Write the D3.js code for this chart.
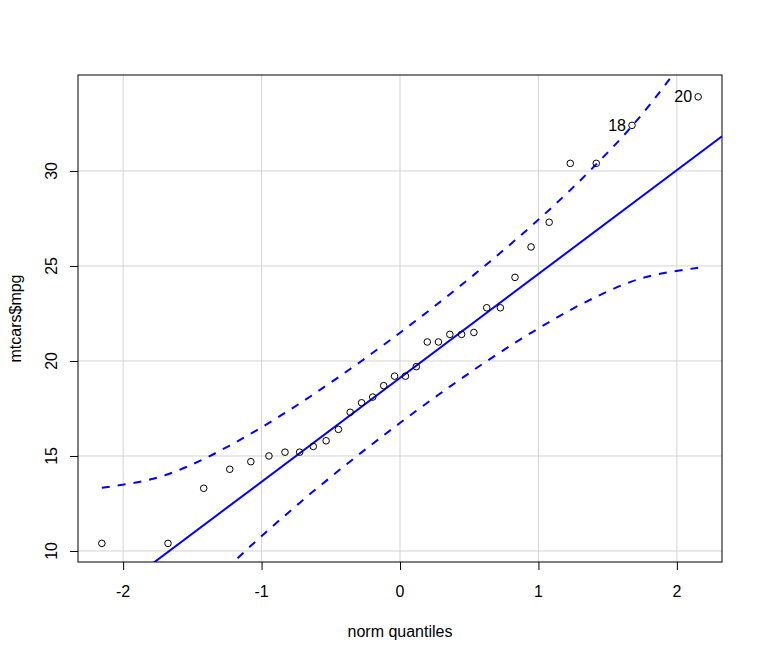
<!DOCTYPE html>
<html>
<head>
<meta charset="utf-8">
<script src="https://cdn.jsdelivr.net/npm/d3@7"></script>
<style>
  body { margin: 0; background: #fff; }
  svg text { font-family: "Liberation Sans", Arial, sans-serif; font-size: 16px; fill: #000; }
</style>
</head>
<body>
<div id="chart"></div>
<script>
// Sorted mtcars$mpg and the matching normal quantiles
const mpg = [10.4, 10.4, 13.3, 14.3, 14.7, 15.0, 15.2, 15.2, 15.5, 15.8, 16.4, 17.3,
  17.8, 18.1, 18.7, 19.2, 19.2, 19.7, 21.0, 21.0, 21.4, 21.4, 21.5, 22.8, 22.8,
  24.4, 26.0, 27.3, 30.4, 30.4, 32.4, 33.9];
const normQ = [-2.1538, -1.6759, -1.4178, -1.2299, -1.0775, -0.9467, -0.8307, -0.7250,
  -0.6264, -0.5336, -0.4450, -0.3600, -0.2776, -0.1971, -0.1177, -0.0392,
  0.0392, 0.1177, 0.1971, 0.2776, 0.3600, 0.4450, 0.5336, 0.6264,
  0.7250, 0.8307, 0.9467, 1.0775, 1.2299, 1.4178, 1.6759, 2.1538];

// confidence envelope
const upperEnv = [13.33, 14.04, 14.84, 15.55, 16.17, 16.74, 17.27, 17.76, 18.24, 18.70,
  19.14, 19.58, 20.00, 20.43, 20.85, 21.27, 21.70, 22.14, 22.58, 23.04, 23.51,
  24.01, 24.53, 25.09, 25.69, 26.35, 27.09, 27.95, 28.99, 30.35, 32.36, 36.88];
const lowerEnv = [1.35, 5.86, 7.88, 9.23, 10.27, 11.13, 11.87, 12.53, 13.14, 13.69,
  14.22, 14.71, 15.19, 15.64, 16.09, 16.52, 16.95, 17.38, 17.80, 18.22, 18.65,
  19.08, 19.53, 19.99, 20.46, 20.96, 21.48, 22.05, 22.68, 23.38, 24.19, 24.90];

// reference line through the quartiles
const lineIntercept = 19.1125;
const lineSlope = 5.4671;

// labelled points (index into the sorted arrays, label text)
const pointLabels = [[30, "18"], [31, "20"]];

const xTicks = [-2, -1, 0, 1, 2];
const yTicks = [10, 15, 20, 25, 30];
const xTickLabels = ["-2", "-1", "0", "1", "2"];
const yTickLabels = ["10", "15", "20", "25", "30"];

const width = 763, height = 660;
const margin = { top: 75, right: 41, bottom: 98, left: 78 };
const innerWidth = width - margin.left - margin.right;
const innerHeight = height - margin.top - margin.bottom;

const xScale = d3.scaleLinear().domain([-2.326, 2.326]).range([0, innerWidth]);
const yScale = d3.scaleLinear().domain([9.42, 35.05]).range([innerHeight, 0]);

const svg = d3.select("#chart")
  .append("svg")
  .attr("width", width)
  .attr("height", height);

svg.append("defs").append("clipPath").attr("id", "plot-clip")
  .append("rect").attr("width", innerWidth).attr("height", innerHeight);

const g = svg.append("g")
  .attr("transform", `translate(${margin.left},${margin.top})`);

// Grid
g.append("g").selectAll("line").data(xTicks).join("line")
  .attr("x1", d => xScale(d)).attr("x2", d => xScale(d))
  .attr("y1", 0).attr("y2", innerHeight)
  .attr("stroke", "#d3d3d3").attr("stroke-width", 1);
g.append("g").selectAll("line").data(yTicks).join("line")
  .attr("y1", d => yScale(d)).attr("y2", d => yScale(d))
  .attr("x1", 0).attr("x2", innerWidth)
  .attr("stroke", "#d3d3d3").attr("stroke-width", 1);

const plot = g.append("g").attr("clip-path", "url(#plot-clip)");

// Reference line
const xd = xScale.domain();
plot.append("line")
  .attr("x1", xScale(xd[0])).attr("y1", yScale(lineIntercept + lineSlope * xd[0]))
  .attr("x2", xScale(xd[1])).attr("y2", yScale(lineIntercept + lineSlope * xd[1]))
  .attr("stroke", "#0000ff").attr("stroke-width", 2);

// Envelope
const envLine = d3.line()
  .x((d, i) => xScale(normQ[i]))
  .y(d => yScale(d))
  .curve(d3.curveMonotoneX);
[upperEnv, lowerEnv].forEach(env => {
  plot.append("path")
    .attr("d", envLine(env))
    .attr("fill", "none")
    .attr("stroke", "#0000ff")
    .attr("stroke-width", 2)
    .attr("stroke-dasharray", "8,8");
});

// Points
g.append("g").selectAll("circle").data(mpg).join("circle")
  .attr("cx", (d, i) => xScale(normQ[i]))
  .attr("cy", d => yScale(d))
  .attr("r", 3.3)
  .attr("fill", "none")
  .attr("stroke", "#000")
  .attr("stroke-width", 1);

// Point labels
g.append("g").selectAll("text").data(pointLabels).join("text")
  .attr("x", d => xScale(normQ[d[0]]) - 6)
  .attr("y", d => yScale(mpg[d[0]]))
  .attr("dy", "0.35em")
  .attr("text-anchor", "end")
  .text(d => d[1]);

// Box
g.append("rect")
  .attr("width", innerWidth).attr("height", innerHeight)
  .attr("fill", "none").attr("stroke", "#000").attr("stroke-width", 1);

// Axes (tick marks only, labels placed separately)
const xAxis = g.append("g")
  .attr("transform", `translate(0,${innerHeight})`)
  .call(d3.axisBottom(xScale).tickValues(xTicks).tickSize(8).tickFormat(""));
const yAxis = g.append("g")
  .call(d3.axisLeft(yScale).tickValues(yTicks).tickSize(8).tickFormat(""));

[xAxis, yAxis].forEach(a => {
  a.select(".domain").remove();
  a.selectAll(".tick line").attr("stroke", "#000");
  a.selectAll(".tick text").remove();
});

g.append("g").selectAll("text").data(xTicks).join("text")
  .attr("x", d => xScale(d))
  .attr("y", innerHeight + 35)
  .attr("text-anchor", "middle")
  .text((d, i) => xTickLabels[i]);

g.append("g").selectAll("text").data(yTicks).join("text")
  .attr("transform", d => `translate(-21,${yScale(d)}) rotate(-90)`)
  .attr("text-anchor", "middle")
  .text((d, i) => yTickLabels[i]);

// Axis titles
svg.append("text")
  .attr("x", margin.left + innerWidth / 2)
  .attr("y", 637)
  .attr("text-anchor", "middle")
  .text("norm quantiles");

svg.append("text")
  .attr("transform", `translate(21,${margin.top + innerHeight / 2}) rotate(-90)`)
  .attr("text-anchor", "middle")
  .text("mtcars$mpg");
</script>
</body>
</html>
